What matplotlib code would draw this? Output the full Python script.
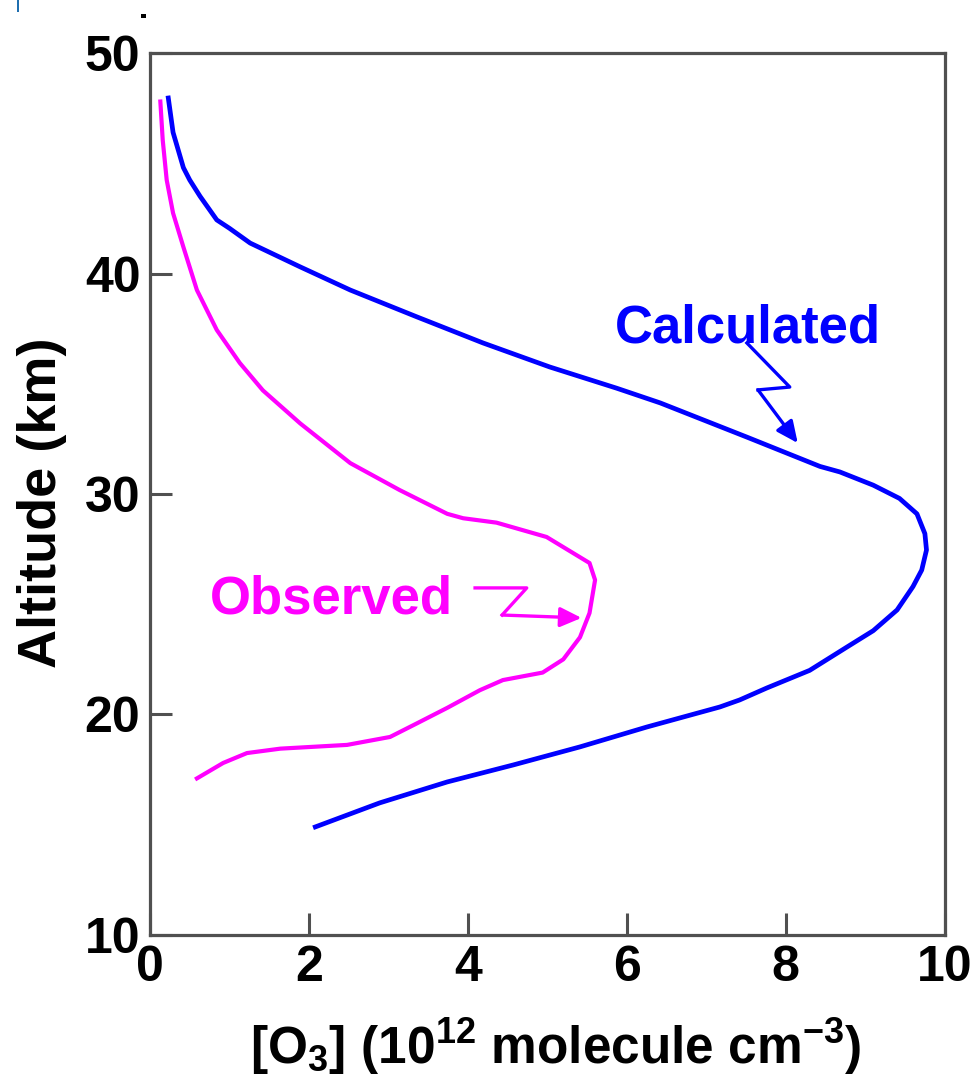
import matplotlib.pyplot as plt
from matplotlib.patches import Rectangle

plt.rcParams['font.family'] = ['Liberation Sans', 'DejaVu Sans']
plt.rcParams['font.weight'] = 'bold'
plt.rcParams['mathtext.default'] = 'regular'

# calculated ozone profile (10^12 molecule cm^-3 vs km)
calc_o3 = [0.23, 0.29, 0.42, 0.50, 0.63, 0.84, 1.00, 1.26, 1.89, 2.52, 3.36, 4.19, 5.03,
           5.87, 6.42, 7.51, 8.43, 8.68, 9.10, 9.43, 9.65, 9.75, 9.77, 9.71, 9.60,
           9.40, 9.10, 8.77, 8.30, 7.76, 7.42, 7.17, 6.25, 5.41, 4.57, 3.74, 2.89, 2.08]
calc_alt = [47.96, 46.4, 44.8, 44.24, 43.5, 42.43, 42.05, 41.38, 40.3, 39.25, 38.03, 36.85, 35.76,
            34.8, 34.13, 32.58, 31.25, 31.0, 30.4, 29.8, 29.1, 28.2, 27.46, 26.55, 25.8,
            24.74, 23.8, 23.06, 22.0, 21.2, 20.66, 20.34, 19.43, 18.53, 17.71, 16.94, 15.99, 14.9]

# observed ozone profile
obs_o3 = [0.13, 0.16, 0.21, 0.29, 0.42, 0.59, 0.84, 1.13, 1.42, 1.89, 2.52, 3.14,
          3.74, 3.94, 4.36, 4.99, 5.53, 5.60, 5.53, 5.41, 5.20, 4.94, 4.44, 4.15,
          3.74, 3.36, 3.02, 2.48, 1.64, 1.22, 0.92, 0.59]
obs_alt = [47.8, 46.05, 44.24, 42.74, 41.2, 39.25, 37.44, 35.94, 34.7, 33.2, 31.4, 30.18,
           29.1, 28.9, 28.7, 28.05, 26.87, 26.1, 24.6, 23.5, 22.5, 21.9, 21.56, 21.1,
           20.3, 19.6, 18.98, 18.62, 18.45, 18.25, 17.8, 17.1]

blue = '#0000ff'
magenta = '#ff00ff'
gray = '#505050'

fig = plt.figure(figsize=(9.76, 10.82), dpi=100)
ax = fig.add_axes([0.1537, 0.1359, 0.8143, 0.8151])

ax.plot(calc_o3, calc_alt, color=blue, lw=3.4, solid_joinstyle='round')
ax.plot(obs_o3, obs_alt, color=magenta, lw=3.0, solid_joinstyle='round')

ax.set_xlim(0, 10)
ax.set_ylim(10, 50)
ax.set_xticks([0, 2, 4, 6, 8, 10])
ax.set_yticks([10, 20, 30, 40, 50])
ax.tick_params(direction='in', length=16, width=2.2, color=gray,
               labelsize=36, pad=7)
for s in ax.spines.values():
    s.set_color(gray)
    s.set_linewidth(2.3)

ax.set_ylabel('Altitude (km)', fontsize=39, fontweight='bold')
ax.yaxis.set_label_coords(-0.105, 0.49)
ax.set_xlabel('[O$_3$] (10$^{12}$ molecule cm$^{-3}$)', fontsize=37, fontweight='bold')
ax.xaxis.set_label_coords(0.51, -0.092)

# labels with zigzag arrows
head = '-|>,head_length=1.3,head_width=0.6'
ax.text(5.85, 36.85, 'Calculated', color=blue, fontsize=38, fontweight='bold',
        ha='left', va='baseline')
ax.plot([7.51, 8.05, 7.65], [36.85, 34.85, 34.72], color=blue, lw=2.4)
ax.annotate('', xy=(8.15, 32.31), xytext=(7.65, 34.72),
            arrowprops=dict(arrowstyle=head, color=blue, lw=2.4, shrinkA=0, shrinkB=0))

ax.text(0.755, 24.6, 'Observed', color=magenta, fontsize=38, fontweight='bold',
        ha='left', va='baseline')
ax.plot([4.09, 4.74, 4.43], [25.74, 25.74, 24.51], color=magenta, lw=2.4)
ax.annotate('', xy=(5.43, 24.38), xytext=(4.43, 24.51),
            arrowprops=dict(arrowstyle=head, color=magenta, lw=2.4, shrinkA=0, shrinkB=0))

# small stray marks in the top-left corner of the original image
fig.add_artist(Rectangle((17 / 976, 1 - 12 / 1082), 2 / 976, 12 / 1082,
                         transform=fig.transFigure, color='#1f6fb0', lw=0))
fig.add_artist(Rectangle((141 / 976, 1 - 18 / 1082), 5 / 976, 4 / 1082,
                         transform=fig.transFigure, color='black', lw=0))

fig.savefig('out.png', dpi=100)
plt.close()
